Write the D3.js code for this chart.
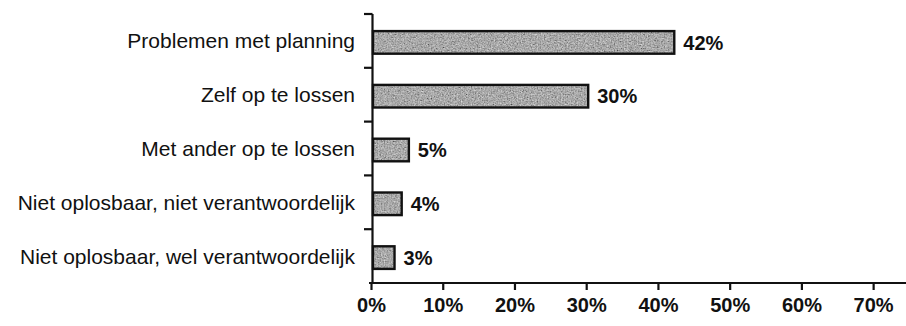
<!DOCTYPE html>
<html>
<head>
<meta charset="utf-8">
<script src="https://cdn.jsdelivr.net/npm/d3@7"></script>
<style>
  html, body { margin: 0; padding: 0; background: #fff; }
  svg { display: block; }
  text { font-family: "Liberation Sans", Arial, sans-serif; fill: #111; }
</style>
</head>
<body>
<svg id="chart" width="906" height="326"></svg>
<script>
// Answers, top to bottom, with their shares
const categories = [
  "Problemen met planning",
  "Zelf op te lossen",
  "Met ander op te lossen",
  "Niet oplosbaar, niet verantwoordelijk",
  "Niet oplosbaar, wel verantwoordelijk"
];
const shares = [0.42, 0.30, 0.05, 0.04, 0.03];
const xTicks = [0, 0.1, 0.2, 0.3, 0.4, 0.5, 0.6, 0.7];

const svg = d3.select("#chart");

const x = d3.scaleLinear().domain([0, 0.75]).range([371, 909]);
const y = d3.scaleBand().domain(categories).range([14, 283]).paddingInner(0.58).paddingOuter(0.29);

// Speckled grey fill for the bars
const defs = svg.append("defs");
const filt = defs.append("filter").attr("id", "grain").attr("x", 0).attr("y", 0).attr("width", 1).attr("height", 1);
filt.append("feTurbulence").attr("type", "fractalNoise").attr("baseFrequency", 0.7).attr("numOctaves", 3).attr("seed", 3).attr("result", "noise");
filt.append("feColorMatrix").attr("in", "noise").attr("type", "matrix")
  .attr("values", "0.33 0.33 0.33 0 0  0.33 0.33 0.33 0 0  0.33 0.33 0.33 0 0  0 0 0 0 1")
  .attr("result", "grey");
filt.append("feComponentTransfer").attr("in", "grey").attr("result", "dark")
  .call(s => {
    ["feFuncR", "feFuncG", "feFuncB"].forEach(f =>
      s.append(f).attr("type", "linear").attr("slope", 1.2).attr("intercept", -0.2));
  });
filt.append("feComposite").attr("in", "dark").attr("in2", "SourceGraphic").attr("operator", "in");

// Bars
const bars = svg.append("g");
bars.selectAll("rect.fill")
  .data(shares)
  .join("rect")
  .attr("class", "fill")
  .attr("x", x(0) + 2)
  .attr("y", (d, i) => y(categories[i]) + 1.5)
  .attr("width", d => x(d) - x(0))
  .attr("height", y.bandwidth())
  .attr("fill", "#7a7a7a")
  .attr("filter", "url(#grain)");
bars.selectAll("rect.edge")
  .data(shares)
  .join("rect")
  .attr("class", "edge")
  .attr("x", x(0) + 2)
  .attr("y", (d, i) => y(categories[i]) + 1.5)
  .attr("width", d => x(d) - x(0))
  .attr("height", y.bandwidth())
  .attr("fill", "none")
  .attr("stroke", "#111")
  .attr("stroke-width", 2.4);

// Value labels
svg.append("g").selectAll("text")
  .data(shares)
  .join("text")
  .attr("x", d => x(d) + 11)
  .attr("y", (d, i) => y(categories[i]) + y.bandwidth() / 2 + 1.5)
  .attr("dy", "0.36em")
  .attr("font-size", 20)
  .attr("font-weight", "bold")
  .text(d => d3.format(".0%")(d));

// Category labels
svg.append("g").selectAll("text")
  .data(categories)
  .join("text")
  .attr("x", 355)
  .attr("y", d => y(d) + y.bandwidth() / 2)
  .attr("dy", "0.36em")
  .attr("text-anchor", "end")
  .attr("font-size", 21)
  .text(d => d);

// Y axis: vertical line with ticks between the categories
const step = y.step();
const bounds = d3.range(categories.length).map(i => y(categories[i]) - y.paddingInner() * step / 2);
const yAxis = svg.append("g");
yAxis.append("line")
  .attr("x1", 372.5).attr("x2", 372.5)
  .attr("y1", 14).attr("y2", 284)
  .attr("stroke", "#111").attr("stroke-width", 2.2);
yAxis.selectAll("line.tick")
  .data(bounds)
  .join("line")
  .attr("class", "tick")
  .attr("x1", 364).attr("x2", 372.5)
  .attr("y1", d => d).attr("y2", d => d)
  .attr("stroke", "#111").attr("stroke-width", 2.2);

// X axis
const xAxis = svg.append("g").attr("transform", "translate(0,283)")
  .call(d3.axisBottom(x).tickValues(xTicks).tickFormat(d3.format(".0%")).tickSize(7).tickPadding(8));
xAxis.select(".domain").attr("stroke", "#111").attr("stroke-width", 2.2).attr("d", `M${x(0) - 2},0H906`);
xAxis.selectAll(".tick line").attr("stroke", "#111").attr("stroke-width", 2.2);
xAxis.selectAll(".tick text")
  .attr("font-family", "'Liberation Sans', Arial, sans-serif")
  .attr("font-size", 20)
  .attr("font-weight", "bold")
  .attr("fill", "#111");
</script>
</body>
</html>
